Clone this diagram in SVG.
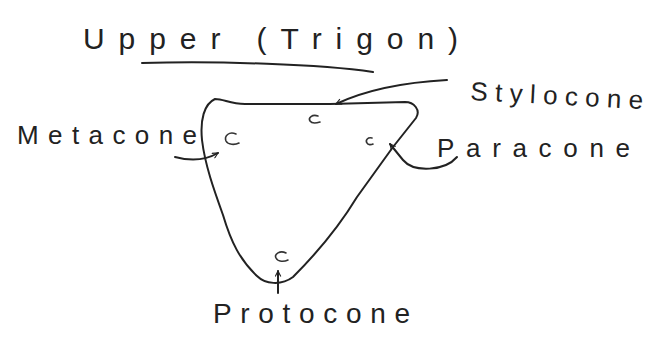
<svg xmlns="http://www.w3.org/2000/svg" width="654" height="339" viewBox="0 0 654 339">
<style>
.lbl{font-family:"Liberation Sans","DejaVu Sans",sans-serif;fill:#222;font-weight:normal}
.ink{fill:none;stroke:#222;stroke-width:2;stroke-linecap:round;stroke-linejoin:round}
.cusp{fill:none;stroke:#333;stroke-width:1.6;stroke-linecap:round}
</style>
<defs>
<marker id="arr" viewBox="0 0 10 10" refX="9" refY="5" markerWidth="7" markerHeight="7" orient="auto" markerUnits="userSpaceOnUse">
<path d="M1,1 L9,5 L1,9" fill="none" stroke="#222" stroke-width="1.6"/>
</marker>
</defs>
<rect width="654" height="339" fill="#fff"/>
<g id="title">
<text class="lbl" x="83" y="49" font-size="30" textLength="375" lengthAdjust="spacing">Upper (Trigon)</text>
<path class="ink" stroke-width="1.6" d="M142,63 C220,61 320,64 373,72"/>
</g>
<g id="trigon">
<path class="ink" d="M215,99 C224,99 230,104 245,104 L330,104 L405,102 C414,102 421,110 416,118 L393,147 L357,197 C340,225 318,252 293,277 C281,286 265,284 257,276 C240,260 231,242 223,215 C214,190 205,165 202,140 C200,120 204,104 215,99 Z"/>
</g>
<g id="stylocone">
<path class="cusp" d="M318,116 C312,114 308,118 310,121 C312,124 317,123 320,122"/>
<text class="lbl" x="470" y="100" font-size="26" textLength="173" lengthAdjust="spacing" transform="rotate(3 470 100)">Stylocone</text>
</g>
<g id="metacone">
<path class="cusp" d="M236,134 C229,131 224,136 226,141 C228,145 235,145 239,143"/>
<text class="lbl" x="17" y="144" font-size="26" textLength="180" lengthAdjust="spacing">Metacone</text>
</g>
<g id="paracone">
<path class="cusp" d="M372,138 C368,137 365,140 367,143 C368,145 371,145 373,144"/>
<text class="lbl" x="437" y="157" font-size="26" textLength="193" lengthAdjust="spacing">Paracone</text>
</g>
<g id="protocone">
<path class="cusp" d="M286,253 C280,250 274,254 276,258 C278,262 284,262 288,260"/>
<text class="lbl" x="213" y="323" font-size="28" textLength="197" lengthAdjust="spacing">Protocone</text>
</g>
<g id="connectors">
<path class="ink" marker-end="url(#arr)" d="M447,80 C410,82 370,88 336,104"/>
<path class="ink" marker-end="url(#arr)" d="M457,157 C445,171 414,173 403,160 L390,144"/>
<path class="ink" marker-end="url(#arr)" d="M175,157 C190,161 206,160 218,153"/>
<path class="ink" marker-end="url(#arr)" d="M278,293 L278,271"/>
</g>
</svg>
